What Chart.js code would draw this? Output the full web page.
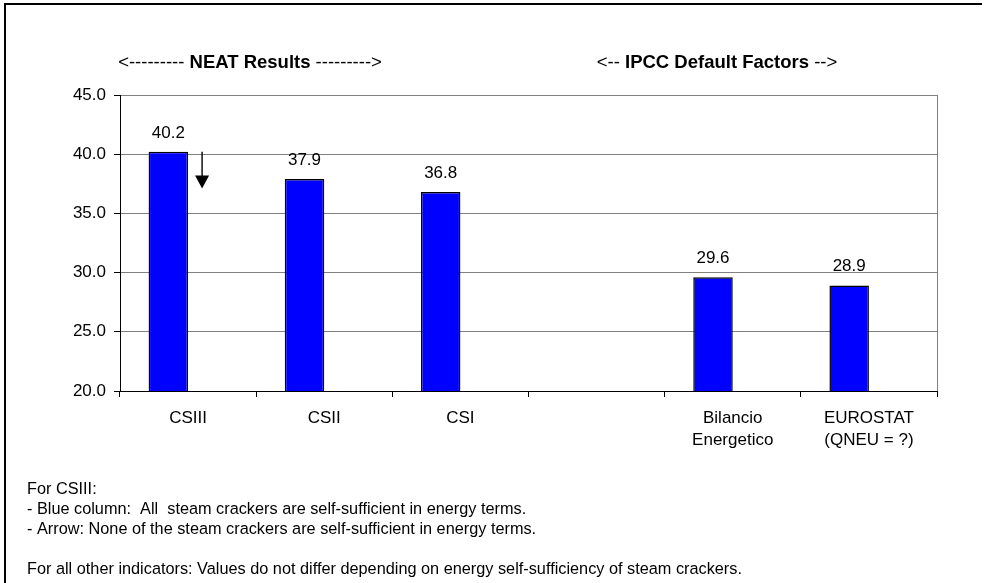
<!DOCTYPE html>
<html>
<head>
<meta charset="utf-8">
<script src="https://cdn.jsdelivr.net/npm/chart.js@4.4.1/dist/chart.umd.min.js"></script>
<style>
  html, body { margin: 0; padding: 0; background: #fff; }
  #wrap { position: relative; width: 987px; height: 583px; }
</style>
</head>
<body>
<div id="wrap"><canvas id="c" width="987" height="583"></canvas></div>
<script>
// Categories (empty slot separates NEAT results from IPCC default factors)
const categories = ['CSIII', 'CSII', 'CSI', '', ['Bilancio', 'Energetico'], ['EUROSTAT', '(QNEU = ?)']];
// Indicator values
const values = [40.2, 37.9, 36.8, null, 29.6, 28.9];
// Empty companion series (keeps each column in the left half of its slot)
const companion = [null, null, null, null, null, null];
// Y axis range and step
const yMin = 20, yMax = 45, yStep = 5;
// Arrow for CSIII: from its column value down to this level
const arrowTo = 37.1;

const groupHeaders = [
  { x: 250, parts: [['<--------- ', 'normal'], ['NEAT Results', 'bold'], [' --------->', 'normal']] },
  { x: 717, parts: [['<-- ', 'normal'], ['IPCC Default Factors', 'bold'], [' -->', 'normal']] }
];
const notes = [
  'For CSIII:',
  '- Blue column:  All  steam crackers are self-sufficient in energy terms.',
  '- Arrow: None of the steam crackers are self-sufficient in energy terms.',
  '',
  'For all other indicators: Values do not differ depending on energy self-sufficiency of steam crackers.'
];

const FONT = '"Liberation Sans", Arial, sans-serif';
const FS = 17;
const HEAD_FS = 18.5;
const NOTE_FS = 16.3;

const decor = {
  id: 'decor',
  beforeDatasetsDraw(chart) {
    const { ctx, chartArea: a } = chart;
    ctx.save();
    ctx.strokeStyle = '#808080';
    ctx.lineWidth = 1;
    ctx.beginPath();
    ctx.moveTo(a.right + 0.5, a.top);
    ctx.lineTo(a.right + 0.5, a.bottom);
    ctx.stroke();
    ctx.restore();
  },
  afterDraw(chart) {
    const { ctx } = chart;
    const meta = chart.getDatasetMeta(0);
    const ys = chart.scales.y;
    ctx.save();
    // value labels above the columns
    ctx.fillStyle = '#000';
    ctx.font = FS + 'px ' + FONT;
    ctx.textAlign = 'center';
    ctx.textBaseline = 'middle';
    meta.data.forEach((bar, i) => {
      const v = values[i];
      if (v == null) return;
      ctx.fillText(v.toFixed(1), bar.x, bar.y - 19);
    });
    // arrow next to CSIII
    const b0 = meta.data[0];
    const ax = b0.x + b0.width / 2 + 14;
    const y0 = ys.getPixelForValue(values[0]);
    const y1 = ys.getPixelForValue(arrowTo);
    ctx.strokeStyle = '#000';
    ctx.lineWidth = 1.4;
    ctx.beginPath();
    ctx.moveTo(ax, y0);
    ctx.lineTo(ax, y1 - 10);
    ctx.stroke();
    ctx.beginPath();
    ctx.moveTo(ax - 7, y1 - 13);
    ctx.lineTo(ax + 7, y1 - 13);
    ctx.lineTo(ax, y1);
    ctx.closePath();
    ctx.fill();
    // group headers
    ctx.textAlign = 'left';
    groupHeaders.forEach(h => {
      let total = 0;
      h.parts.forEach(([t, w]) => { ctx.font = w + ' ' + HEAD_FS + 'px ' + FONT; total += ctx.measureText(t).width; });
      let x = h.x - total / 2;
      h.parts.forEach(([t, w]) => {
        ctx.font = w + ' ' + HEAD_FS + 'px ' + FONT;
        ctx.fillText(t, x, 63);
        x += ctx.measureText(t).width;
      });
    });
    // notes
    ctx.font = NOTE_FS + 'px ' + FONT;
    notes.forEach((t, i) => { if (t) ctx.fillText(t, 27, 489.5 + i * 20.1); });
    // frame
    ctx.strokeStyle = '#000';
    ctx.lineWidth = 2;
    ctx.beginPath();
    ctx.moveTo(5, 583);
    ctx.lineTo(5, 4);
    ctx.lineTo(982, 4);
    ctx.stroke();
    ctx.restore();
  }
};

new Chart(document.getElementById('c'), {
  type: 'bar',
  data: {
    labels: categories,
    datasets: [
      { data: values, backgroundColor: '#0000FF', borderColor: '#000', borderWidth: 1.5, borderSkipped: false },
      { data: companion, backgroundColor: '#0000FF', borderColor: '#000', borderWidth: 1.5 }
    ]
  },
  options: {
    responsive: false,
    animation: false,
    layout: { padding: { left: 0, right: 50, top: 95, bottom: 0 } },
    plugins: { legend: { display: false }, tooltip: { enabled: false } },
    datasets: { bar: { categoryPercentage: 0.58, barPercentage: 1.0 } },
    scales: {
      x: {
        offset: true,
        grid: { offset: true, drawOnChartArea: false, tickLength: 6, color: '#000', tickColor: '#000' },
        border: { color: '#000', width: 1 },
        ticks: { color: '#000', font: { family: FONT, size: FS, lineHeight: 1.25 }, padding: 11, maxRotation: 0, autoSkip: false },
        afterFit(s) { s.height = 192; }
      },
      y: {
        min: yMin, max: yMax,
        grid: { color: '#808080', tickLength: 6, tickColor: '#000' },
        border: { color: '#000', width: 1 },
        ticks: { stepSize: yStep, color: '#000', font: { family: FONT, size: FS }, padding: 8,
                 callback: v => Number(v).toFixed(1) },
        afterFit(s) { s.width = 120; }
      }
    }
  },
  plugins: [decor]
});
</script>
</body>
</html>
